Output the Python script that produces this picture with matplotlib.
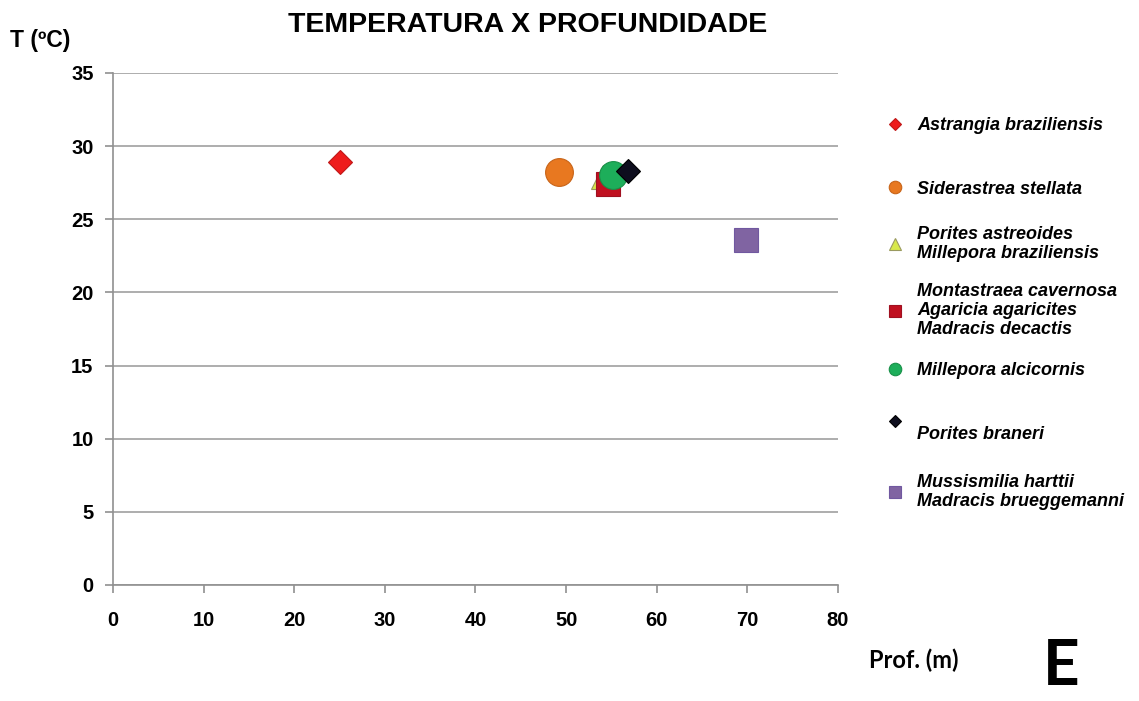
import matplotlib
matplotlib.use("Agg")
import matplotlib.pyplot as plt

species = [
    "Astrangia braziliensis",
    "Siderastrea stellata",
    "Porites astreoides\nMillepora braziliensis",
    "Montastraea cavernosa\nAgaricia agaricites\nMadracis decactis",
    "Millepora alcicornis",
    "Porites braneri",
    "Mussismilia harttii\nMadracis brueggemanni",
]
depth = [25, 49.2, 54.1, 54.6, 55.2, 56.8, 69.8]
temperature = [28.9, 28.2, 27.9, 27.4, 28.0, 28.3, 23.6]
markers = ["D", "o", "^", "s", "o", "D", "s"]
colors = ["#EE1C1C", "#E87820", "#D8E84A", "#C01020", "#1DAE5A", "#0E0E1E", "#8064A2"]
edges = ["#C01818", "#C86418", "#9A9A60", "#A01020", "#189048", "#000000", "#7058A0"]
msizes = [12, 20, 17, 17, 20, 12, 17]
leg_msizes = [6, 9, 9, 9, 9, 6, 9]
leg_y = [0.821, 0.73, 0.652, 0.557, 0.471, 0.397, 0.298]

xticks = [0, 10, 20, 30, 40, 50, 60, 70, 80]
yticks = [0, 5, 10, 15, 20, 25, 30, 35]

fig = plt.figure(figsize=(11.39, 7.01), dpi=100)
ax = fig.add_axes([0.0992, 0.1655, 0.6365, 0.7304])

handles = []
for x, y, m, c, e, s in zip(depth, temperature, markers, colors, edges, msizes):
    h, = ax.plot([x], [y], linestyle="none", marker=m, markersize=s,
                 markerfacecolor=c, markeredgecolor=e, markeredgewidth=0.8)
    handles.append(h)

ax.set_xlim(0, 80)
ax.set_ylim(0, 35)
ax.set_xticks(xticks)
ax.set_yticks(yticks)
ax.yaxis.grid(True, color="#A0A0A0", linewidth=1.2)
ax.set_axisbelow(True)
for side in ["top", "right"]:
    ax.spines[side].set_visible(False)
for side in ["left", "bottom"]:
    ax.spines[side].set_color("#909090")
    ax.spines[side].set_linewidth(1.2)
ax.tick_params(axis="both", colors="#909090", length=6, width=1.2)
for lab in ax.get_xticklabels() + ax.get_yticklabels():
    lab.set_color("black")
    lab.set_fontfamily("Liberation Sans")
    lab.set_fontweight("bold")
    lab.set_fontsize(14.5)
ax.tick_params(axis="x", pad=13)
ax.tick_params(axis="y", pad=8)

fig.text(0.463, 0.964, "TEMPERATURA X PROFUNDIDADE", ha="center", va="center",
         fontsize=20.5, fontweight="heavy", family="Liberation Sans")
fig.text(0.009, 0.942, "T (ºC)", ha="left", va="center",
         fontsize=16.5, fontweight="bold", family="Liberation Sans")
fig.text(0.763, 0.058, "Prof. (m)", ha="left", va="center",
         fontsize=17, fontweight="bold", family="Lato")
fig.text(0.932, 0.008, "E", ha="center", va="bottom",
         fontsize=46, fontweight="bold", family="Lato")

for i, (h, lab, ms, y) in enumerate(zip(handles, species, leg_msizes, leg_y)):
    leg = fig.legend([h], [lab], loc="center left", bbox_to_anchor=(0.779, y),
                     frameon=False, handlelength=0.8, handletextpad=0.85,
                     borderpad=0, borderaxespad=0,
                     prop={"family": "Liberation Sans", "style": "italic",
                           "weight": "bold", "size": 13})
    for lh in leg.legend_handles:
        lh.set_markersize(ms)
    for t in leg.get_texts():
        t.set_linespacing(1.15)
        if i == 5:
            t.set_y(-12)

fig.savefig("out.png", dpi=100)
